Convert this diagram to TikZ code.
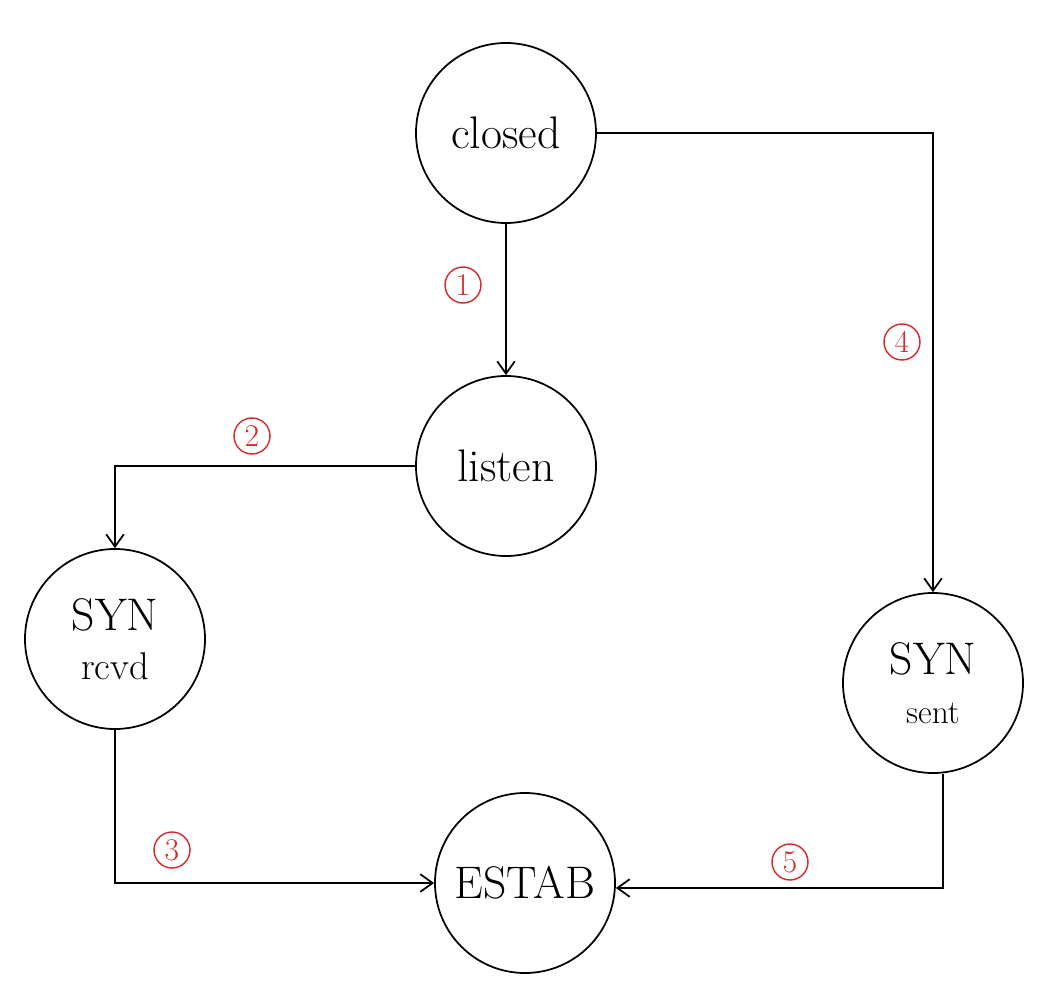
\documentclass[tikz,border=0pt]{standalone}
\usepackage{xcolor}
\usepackage{tikz}
\usetikzlibrary{arrows.meta, positioning}
\definecolor{penred}{RGB}{214,40,40}

\begin{document}
\begin{tikzpicture}[
  state/.style={circle, draw, line width=1pt, minimum size=3.6cm, inner sep=0pt, align=center, font=\fontsize{26}{30}\selectfont},
  num/.style={circle, draw=penred, text=penred, line width=0.8pt, minimum size=0.72cm, inner sep=0pt, font=\fontsize{18}{20}\selectfont},
  arrow/.style={-{Straight Barb[length=7pt, width=10pt]}, line width=1pt}
]
\useasboundingbox (0,0) rectangle (21,-19.74);

\node[state] (closed) at (10.12, -2.66) {closed};
\node[state] (listen) at (10.12, -9.32) {listen};
\node[state] (rcvd) at (2.3, -12.78) {SYN\\[-2pt]{\fontsize{22}{24}\selectfont rcvd}};
\node[state] (sent) at (18.66, -13.66) {SYN\\[-2pt]{\fontsize{19}{22}\selectfont sent}};
\node[state] (estab) at (10.5, -17.66) {ESTAB};

\node[num] (n1) at (9.26, -5.7) {1};
\node[num] (n2) at (5.04, -8.72) {2};
\node[num] (n3) at (3.44, -17.0) {3};
\node[num] (n4) at (18.04, -6.84) {4};
\node[num] (n5) at (15.8, -17.24) {5};

\draw[arrow] (closed) -- (listen);
\draw[arrow] (closed) -| (sent);
\draw[arrow] (listen) -| (rcvd);
\draw[arrow] (rcvd) |- (estab);
\draw[arrow] ([xshift=0.2cm]sent.south) |- ([yshift=-0.1cm]estab.east);
\end{tikzpicture}
\end{document}
